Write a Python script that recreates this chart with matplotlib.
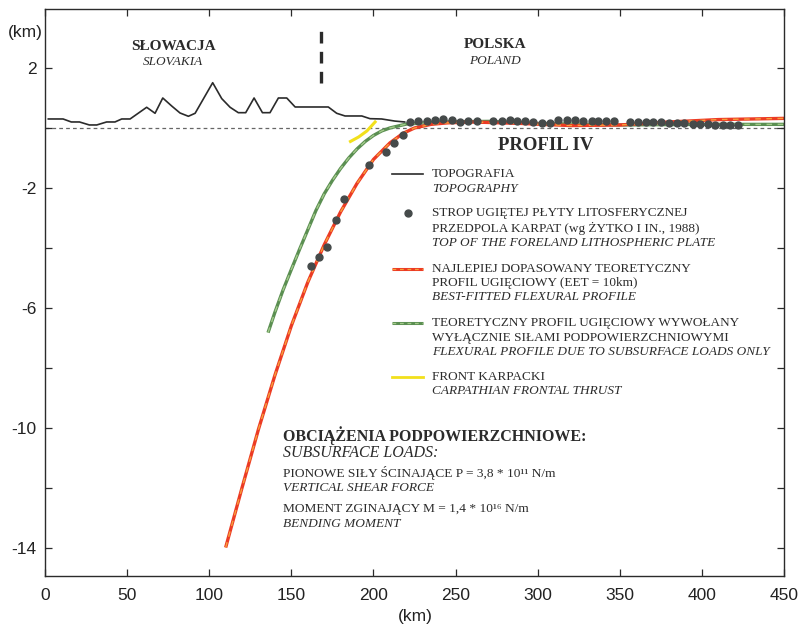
import matplotlib.pyplot as plt

# topography (km along profile, elevation km)
TOPO_X = [2, 11, 16, 21, 27, 31.5, 37.5, 42.6, 46.7, 51.8, 61.9, 67, 71.7, 77.2, 82.2, 87.3,
          91.4, 102.1, 107.6, 112.7, 117.7, 122.2, 127.3, 132.4, 137, 142.1, 147.2, 152.3,
          172.5, 177.6, 182.7, 192.9, 197.9, 205, 213, 219]
TOPO_Y = [0.3, 0.3, 0.2, 0.2, 0.1, 0.1, 0.2, 0.2, 0.3, 0.3, 0.69, 0.49, 1.0, 0.73, 0.5, 0.39,
          0.49, 1.51, 0.98, 0.69, 0.51, 0.51, 1.0, 0.51, 0.51, 1.0, 1.0, 0.7,
          0.7, 0.49, 0.4, 0.4, 0.31, 0.3, 0.23, 0.2]

# top of the foreland plate (Zytko et al., 1988)
PLATE_X = [161.8, 167.1, 171.9, 177.2, 182.1, 197.5, 207.5, 212.7, 217.8, 222.5, 227.4,
           232.4, 237.5, 242.5, 247.6, 252.7, 257.7, 262.8, 273.0, 278.0, 283.1, 287.2,
           292.3, 297.3, 302.4, 307.5, 312.6, 317.7, 322.7, 327.8, 332.9, 337.0, 341.5,
           346.5, 356.3, 360.9, 365.8, 370.5, 375.2, 380.0, 384.7, 389.3, 394.5, 398.9,
           403.6, 408.0, 412.7, 417.2, 421.9]
PLATE_Y = [-4.59, -4.29, -3.98, -3.08, -2.38, -1.23, -0.8, -0.49, -0.24, 0.21, 0.23,
           0.24, 0.27, 0.29, 0.27, 0.21, 0.23, 0.24, 0.24, 0.24, 0.25, 0.24,
           0.22, 0.19, 0.18, 0.18, 0.26, 0.26, 0.26, 0.24, 0.24, 0.24, 0.22,
           0.22, 0.19, 0.19, 0.19, 0.19, 0.19, 0.18, 0.17, 0.17, 0.13, 0.12,
           0.12, 0.11, 0.11, 0.11, 0.11]

# best-fitted flexural profile (EET = 10 km)
FIT_X = [110, 120, 130, 140, 150, 160, 170, 180, 190, 200, 210, 218, 225, 235, 245, 260,
         290, 320, 350, 380, 410, 450]
FIT_Y = [-14, -12.0, -10.05, -8.25, -6.6, -5.15, -3.9, -2.8, -1.85, -1.05, -0.5, -0.18,
         0.0, 0.12, 0.17, 0.2, 0.15, 0.08, 0.1, 0.2, 0.28, 0.32]

# flexural profile due to subsurface loads only
SUB_X = [135.8, 140, 145, 150, 155, 160, 165, 170, 175, 180, 185, 190, 195, 200, 205, 210,
         220, 240, 270, 300, 350, 400, 450]
SUB_Y = [-6.83, -6.15, -5.4, -4.72, -4.05, -3.4, -2.75, -2.2, -1.75, -1.35, -1.0, -0.7,
         -0.45, -0.25, -0.1, 0.0, 0.13, 0.2, 0.22, 0.15, 0.1, 0.12, 0.12]

# Carpathian frontal thrust
THRUST_X = [186, 191, 196, 201]
THRUST_Y = [-0.45, -0.3, -0.1, 0.2]

BORDER_X = 168

YTICKS = [-14, -12, -10, -8, -6, -4, -2, 0, 2]
YTICK_LABELS = ['-14', '', '-10', '', '-6', '', '-2', '', '2']
XTICKS = [0, 50, 100, 150, 200, 250, 300, 350, 400, 450]

SERIF = ['Liberation Serif', 'DejaVu Serif']
SANS = ['Liberation Sans', 'DejaVu Sans']

RED = '#ec3b24'
ORANGE = '#f7a13a'
GREEN = '#5b8f52'
LGREEN = '#a3c98a'
YELLOW = '#f2e01c'
DOT = '#454a4a'
INK = '#2b2b2b'

plt.rcParams['font.family'] = SANS

fig = plt.figure(figsize=(8.01, 6.29), dpi=100)
ax = fig.add_axes([0.0562, 0.0843, 0.9226, 0.9014])

ax.axhline(0, color='#666666', lw=0.9, ls=(0, (3, 2.5)), zorder=1)
ax.plot(TOPO_X, TOPO_Y, color=INK, lw=1.2, zorder=3)

ax.plot(SUB_X, SUB_Y, color=GREEN, lw=2.4, solid_capstyle='butt', zorder=2)
ax.plot(SUB_X, SUB_Y, color=LGREEN, lw=1.0, ls=(0, (4, 4)), zorder=2)
ax.plot(FIT_X, FIT_Y, color=RED, lw=2.4, solid_capstyle='butt', zorder=2)
ax.plot(FIT_X, FIT_Y, color=ORANGE, lw=1.0, ls=(0, (4, 4)), zorder=2)
ax.plot(THRUST_X, THRUST_Y, color=YELLOW, lw=2.2, zorder=2)
ax.plot(PLATE_X, PLATE_Y, 'o', color=DOT, ms=5, zorder=4)

ax.plot([BORDER_X, BORDER_X], [1.5, 3.37], color=INK, lw=2.4, ls=(0, (3.5, 2.5)))

ax.set_xlim(0, 450)
ax.set_ylim(-14.95, 3.97)
ax.set_xticks(XTICKS)
ax.set_yticks(YTICKS)
ax.set_yticklabels(YTICK_LABELS)
ax.tick_params(direction='in', top=True, right=True, length=5, width=0.9, color=INK,
               labelsize=12.5, labelcolor='#222222')
ax.tick_params(axis='x', pad=9)
ax.tick_params(axis='y', pad=6)
for s in ax.spines.values():
    s.set_color(INK)
    s.set_linewidth(1.0)

fig.text(25 / 801, 1 - 33 / 629, '(km)', ha='center', va='center', fontsize=12.5, color='#222222')
fig.text(415 / 801, 1 - 617 / 629, '(km)', ha='center', va='center', fontsize=12.5, color='#222222')

ax.text(78, 2.73, 'SŁOWACJA', ha='center', va='center', family=SERIF, fontsize=11,
        fontweight='bold', color=INK)
ax.text(78, 2.2, 'SLOVAKIA', ha='center', va='center', family=SERIF, fontsize=9.5,
        style='italic', color=INK)
ax.text(274, 2.77, 'POLSKA', ha='center', va='center', family=SERIF, fontsize=11,
        fontweight='bold', color=INK)
ax.text(274, 2.23, 'POLAND', ha='center', va='center', family=SERIF, fontsize=9.5,
        style='italic', color=INK)
ax.text(305, -0.6, 'PROFIL IV', ha='center', va='center', family=SERIF, fontsize=13.5,
        fontweight='bold', color=INK)

# hand-made legend
LX0, LX1, LDOT, LTX = 211.4, 230.3, 221, 235.7
ax.plot([LX0, LX1], [-1.53, -1.53], color=INK, lw=1.2)
ax.plot([LDOT], [-2.83], 'o', color=DOT, ms=5)
ax.plot([LX0, LX1], [-4.7, -4.7], color=RED, lw=2.2, solid_capstyle='butt')
ax.plot([LX0, LX1], [-4.7, -4.7], color=ORANGE, lw=0.9, ls=(0, (3, 3)))
ax.plot([LX0, LX1], [-6.5, -6.5], color=GREEN, lw=2.2, solid_capstyle='butt')
ax.plot([LX0, LX1], [-6.5, -6.5], color=LGREEN, lw=0.9, ls=(0, (3, 3)))
ax.plot([LX0, LX1], [-8.3, -8.3], color=YELLOW, lw=2.0)

legend_lines = [
    (-1.53, 'TOPOGRAFIA', 'normal'),
    (-2.03, 'TOPOGRAPHY', 'italic'),
    (-2.83, 'STROP UGIĘTEJ PŁYTY LITOSFERYCZNEJ', 'normal'),
    (-3.37, 'PRZEDPOLA KARPAT (wg ŻYTKO I IN., 1988)', 'normal'),
    (-3.83, 'TOP OF THE FORELAND LITHOSPHERIC PLATE', 'italic'),
    (-4.7, 'NAJLEPIEJ DOPASOWANY TEORETYCZNY', 'normal'),
    (-5.17, 'PROFIL UGIĘCIOWY (EET = 10km)', 'normal'),
    (-5.63, 'BEST-FITTED FLEXURAL PROFILE', 'italic'),
    (-6.5, 'TEORETYCZNY PROFIL UGIĘCIOWY WYWOŁANY', 'normal'),
    (-7.0, 'WYŁĄCZNIE SIŁAMI PODPOWIERZCHNIOWYMI', 'normal'),
    (-7.47, 'FLEXURAL PROFILE DUE TO SUBSURFACE LOADS ONLY', 'italic'),
    (-8.3, 'FRONT KARPACKI', 'normal'),
    (-8.77, 'CARPATHIAN FRONTAL THRUST', 'italic'),
]
for y, txt, st in legend_lines:
    ax.text(LTX, y, txt, ha='left', va='center', family=SERIF, fontsize=9.5, style=st,
            color=INK)

ax.text(145, -10.27, 'OBCIĄŻENIA PODPOWIERZCHNIOWE:', ha='left', va='center', family=SERIF,
        fontsize=11.5, fontweight='bold', color=INK)
ax.text(145, -10.83, 'SUBSURFACE LOADS:', ha='left', va='center', family=SERIF,
        fontsize=11.5, style='italic', color=INK)
ax.text(145, -11.53, 'PIONOWE SIŁY ŚCINAJĄCE P = 3,8 * 10¹¹ N/m', ha='left', va='center',
        family=SERIF, fontsize=9.6, color=INK)
ax.text(145, -12.0, 'VERTICAL SHEAR FORCE', ha='left', va='center', family=SERIF,
        fontsize=9.6, style='italic', color=INK)
ax.text(145, -12.73, 'MOMENT ZGINAJĄCY M = 1,4 * 10¹⁶ N/m', ha='left', va='center',
        family=SERIF, fontsize=9.6, color=INK)
ax.text(145, -13.23, 'BENDING MOMENT', ha='left', va='center', family=SERIF,
        fontsize=9.6, style='italic', color=INK)

fig.savefig('out.png', dpi=100)
